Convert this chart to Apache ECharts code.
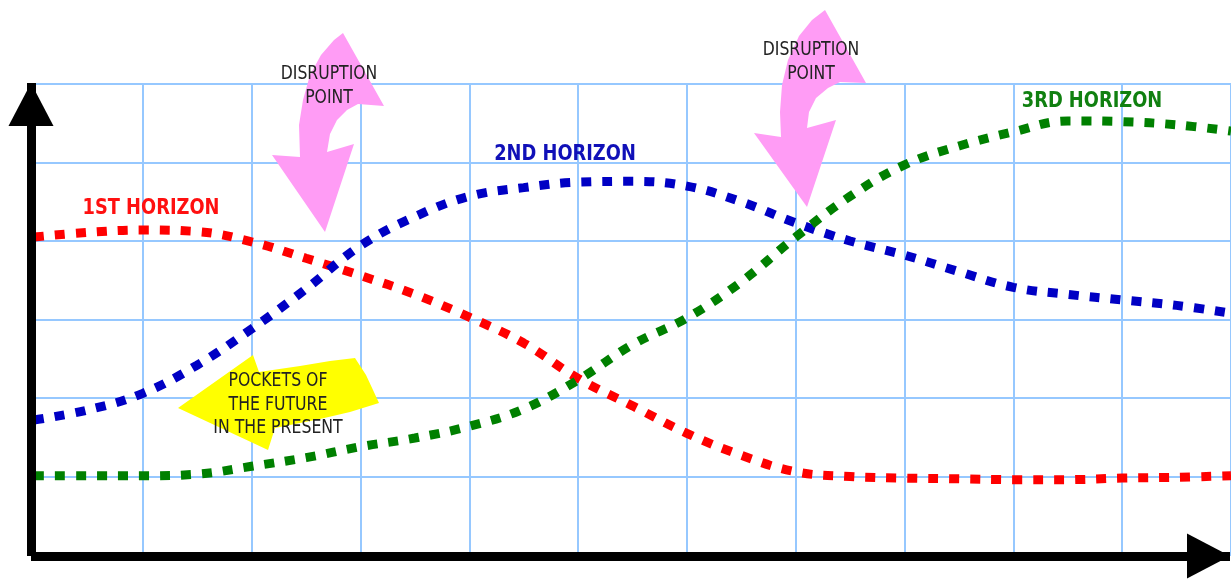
<!DOCTYPE html>
<html>
<head>
<meta charset="utf-8">
<script src="https://cdn.jsdelivr.net/npm/echarts@6/dist/echarts.min.js"></script>
<style>
html,body{margin:0;padding:0;background:#fff;}
#chart{width:1231px;height:580px;}
</style>
</head>
<body>
<div id="chart"></div>
<script>
// ---- data ----
const xValues = [0, 0.5, 1, 1.5, 2, 2.5, 3, 3.5, 4, 4.5, 5, 5.5, 6, 6.5, 7, 7.5, 8, 8.5, 9, 9.5, 10, 10.5, 11];
const firstHorizon  = [4.05, 4.11, 4.14, 4.12, 3.99, 3.78, 3.56, 3.32, 3.03, 2.70, 2.25, 1.90, 1.55, 1.27, 1.06, 1.00, 0.98, 0.97, 0.96, 0.96, 0.98, 0.99, 1.01];
const secondHorizon = [1.72, 1.85, 2.06, 2.42, 2.88, 3.39, 3.94, 4.31, 4.57, 4.68, 4.75, 4.76, 4.70, 4.50, 4.23, 4.00, 3.82, 3.61, 3.41, 3.32, 3.25, 3.18, 3.08];
const thirdHorizon  = [1.01, 1.01, 1.01, 1.03, 1.13, 1.24, 1.38, 1.49, 1.64, 1.86, 2.23, 2.68, 3.02, 3.48, 4.05, 4.57, 4.97, 5.21, 5.39, 5.53, 5.52, 5.48, 5.40];
const seriesNames = ['1ST HORIZON', '2ND HORIZON', '3RD HORIZON'];
const disruptionText = 'DISRUPTION\nPOINT';
const pocketsText = 'POCKETS OF\nTHE FUTURE\nIN THE PRESENT';

const zip = arr => xValues.map((x, i) => [x, arr[i]]);

const FONT = '"Liberation Sans Narrow", "DejaVu Sans Condensed", "Liberation Sans", sans-serif';
const gridColor = '#96c8ff';
const dash = { width: 9, type: [10, 11], cap: 'butt' };

function lineSeries(name, data, color) {
  return {
    name: name, type: 'line', xAxisIndex: 0, yAxisIndex: 0,
    data: zip(data), smooth: 0.4, showSymbol: false, symbol: 'none',
    lineStyle: Object.assign({ color: color }, dash), z: 3,
    emphasis: { disabled: true }
  };
}

const chart = echarts.init(document.getElementById('chart'));
const axisArrow = { show: true, onZero: false, symbol: ['none', 'triangle'], symbolSize: [45, 43], symbolOffset: [0, -21.5], lineStyle: { color: '#000', width: 9, cap: 'butt' } };

function label(text, x, y, color, font, lineHeight, sx) {
  return { type: 'text', z: 20, x: x, y: y, scaleX: sx, scaleY: 1,
    style: { text: text, fill: color, font: font, lineHeight: lineHeight, align: 'center', verticalAlign: 'middle' } };
}

chart.setOption({
  animation: false,
  backgroundColor: '#fff',
  grid: [
    { left: 34, right: -4, top: 84, bottom: 25 },
    { left: 31, right: 1, top: 83, bottom: 24 }
  ],
  xAxis: [
    { type: 'value', gridIndex: 0, min: 0, max: 11, interval: 1,
      axisLine: { show: false }, axisTick: { show: false }, axisLabel: { show: false },
      splitLine: { show: true, lineStyle: { color: gridColor, width: 2 } } },
    { type: 'value', gridIndex: 1, min: 0, max: 1, axisLine: axisArrow, z: 10,
      axisTick: { show: false }, axisLabel: { show: false }, splitLine: { show: false } }
  ],
  yAxis: [
    { type: 'value', gridIndex: 0, min: 0, max: 6, interval: 1,
      axisLine: { show: false }, axisTick: { show: false }, axisLabel: { show: false },
      splitLine: { show: true, lineStyle: { color: gridColor, width: 2 } } },
    { type: 'value', gridIndex: 1, min: 0, max: 1, axisLine: axisArrow, z: 10,
      axisTick: { show: false }, axisLabel: { show: false }, splitLine: { show: false } }
  ],
  series: [
    lineSeries(seriesNames[0], firstHorizon, '#ff0000'),
    lineSeries(seriesNames[1], secondHorizon, '#0000c4'),
    lineSeries(seriesNames[2], thirdHorizon, '#008000')
  ],
  graphic: [
    { type: 'polygon', z: 1, style: { fill: '#ff9cf5' },
      shape: { points: [[343,33],[384,106],[358,104],[347,110],[337,120],[330,134],[327,152],[354,144],[325,232],[272,155],[300,157],[299,125],[303,100],[310,75],[321,55],[334,40]] } },
    { type: 'polygon', z: 1, style: { fill: '#ff9cf5' },
      shape: { points: [[825,10],[866,83],[840,82],[828,88],[816,98],[809,112],[807,128],[836,120],[807,207],[754,133],[781,137],[780,112],[782,85],[788,60],[799,36],[812,20]] } },
    { type: 'polygon', z: 1, style: { fill: '#ffff00' },
      shape: { points: [[178,408],[253,355],[259,372],[300,366],[330,361],[355,358],[366,375],[373,390],[379,403],[350,412],[320,419],[275,428],[268,450]] } },
    label(seriesNames[0], 151, 208, '#ff1010', 'bold 22px ' + FONT, 24, 0.9),
    label(seriesNames[1], 565, 154, '#1010b8', 'bold 22px ' + FONT, 24, 0.9),
    label(seriesNames[2], 1092, 101, '#108010', 'bold 22px ' + FONT, 24, 0.9),
    label(disruptionText, 329, 86, '#222', '20px ' + FONT, 24, 0.87),
    label(disruptionText, 811, 62, '#222', '20px ' + FONT, 24, 0.87),
    label(pocketsText, 278, 405, '#222', '19px ' + FONT, 23.5, 0.92)
  ]
});
</script>
</body>
</html>
